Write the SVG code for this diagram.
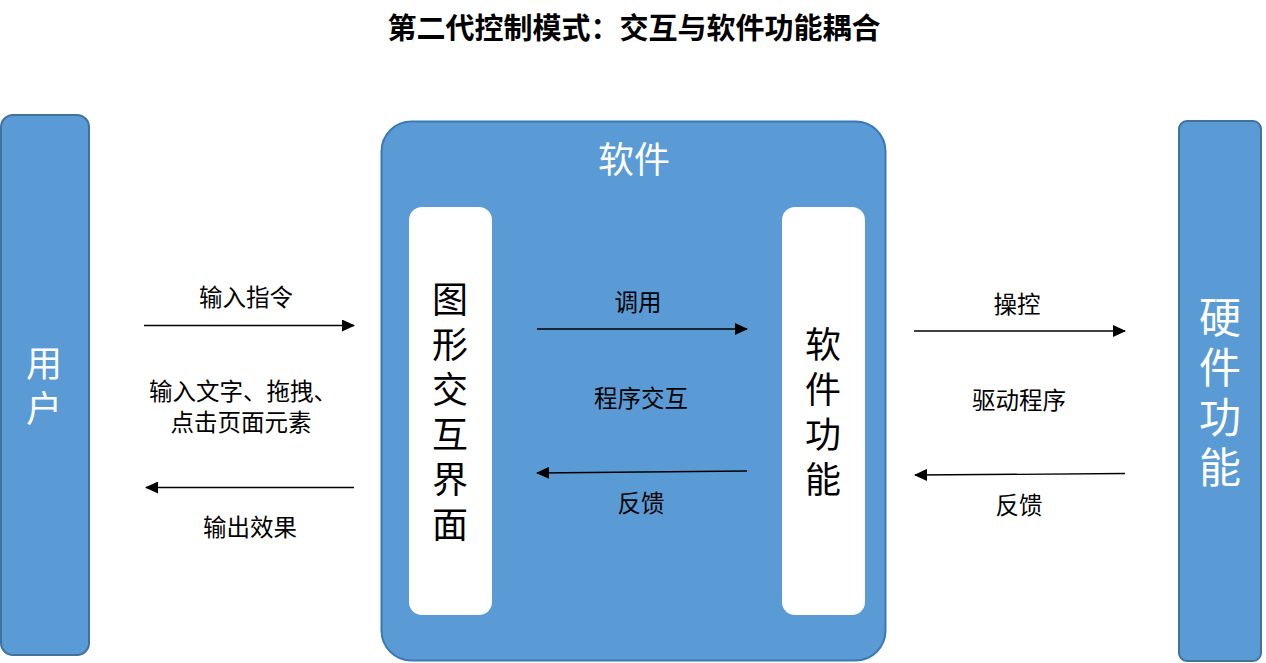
<svg xmlns="http://www.w3.org/2000/svg" width="1266" height="663" viewBox="0 0 1266 663">
<style>
text{font-family:"Noto Sans CJK SC","Liberation Sans",sans-serif;text-anchor:middle}
.title{font-size:29px;font-weight:bold;fill:#000}
.lbl{font-size:23.5px;fill:#000}
.wt{fill:#fff}
.bk{fill:#000}
.blue{fill:#5B9BD5;stroke:#41719C;stroke-width:2}
.inner{fill:#fff}
.conn line{stroke:#000;stroke-width:1.3;marker-end:url(#ah)}
</style>
<defs>
<marker id="ah" markerUnits="userSpaceOnUse" markerWidth="13" markerHeight="12" refX="12" refY="6" orient="auto">
<path d="M0,0 L13,6 L0,12 Z" fill="#000"/>
</marker>
</defs>
<rect width="1266" height="663" fill="#fff"/>
<text class="title" x="634" y="39">第二代控制模式：交互与软件功能耦合</text>

<g id="user">
<rect class="blue" x="1" y="115" width="88" height="540" rx="12"/>
<text class="wt" font-size="36" x="44" y="377">用</text>
<text class="wt" font-size="36" x="44" y="422">户</text>
</g>

<g id="software">
<rect class="blue" x="381.5" y="121.5" width="504" height="539" rx="30" style="stroke:#3A78B8"/>
<text class="wt" font-size="36" x="634" y="173">软件</text>
</g>

<g id="gui">
<rect class="inner" x="409" y="207" width="83" height="408" rx="13"/>
<text class="bk" font-size="36" x="450" y="313">图</text>
<text class="bk" font-size="36" x="450" y="358">形</text>
<text class="bk" font-size="36" x="450" y="403">交</text>
<text class="bk" font-size="36" x="450" y="448">互</text>
<text class="bk" font-size="36" x="450" y="493">界</text>
<text class="bk" font-size="36" x="450" y="538">面</text>
</g>

<g id="softfunc">
<rect class="inner" x="782" y="207" width="83" height="408" rx="13"/>
<text class="bk" font-size="36" x="823" y="358">软</text>
<text class="bk" font-size="36" x="823" y="403">件</text>
<text class="bk" font-size="36" x="823" y="448">功</text>
<text class="bk" font-size="36" x="823" y="493">能</text>
</g>

<g id="hardware">
<rect class="blue" x="1179" y="121" width="82" height="540" rx="8"/>
<text class="wt" font-size="42" x="1220" y="333">硬</text>
<text class="wt" font-size="42" x="1220" y="383">件</text>
<text class="wt" font-size="42" x="1220" y="433">功</text>
<text class="wt" font-size="42" x="1220" y="483">能</text>
</g>

<g id="connectors" class="conn">
<line x1="144" y1="325.5" x2="354" y2="325.5"/>
<line x1="354" y1="487.5" x2="146" y2="487.5"/>
<line x1="537" y1="329" x2="747" y2="329"/>
<line x1="747" y1="471" x2="537" y2="473"/>
<line x1="914" y1="331" x2="1125" y2="331"/>
<line x1="1125" y1="473.5" x2="915" y2="475"/>
</g>

<g id="labels">
<text class="lbl" x="246" y="306">输入指令</text>
<text class="lbl" x="243" y="400">输入文字、拖拽、</text>
<text class="lbl" x="241" y="431">点击页面元素</text>
<text class="lbl" x="250" y="536">输出效果</text>
<text class="lbl" x="638" y="311">调用</text>
<text class="lbl" x="641" y="407">程序交互</text>
<text class="lbl" x="641" y="512">反馈</text>
<text class="lbl" x="1017" y="313">操控</text>
<text class="lbl" x="1019" y="409">驱动程序</text>
<text class="lbl" x="1019" y="514">反馈</text>
</g>
</svg>
